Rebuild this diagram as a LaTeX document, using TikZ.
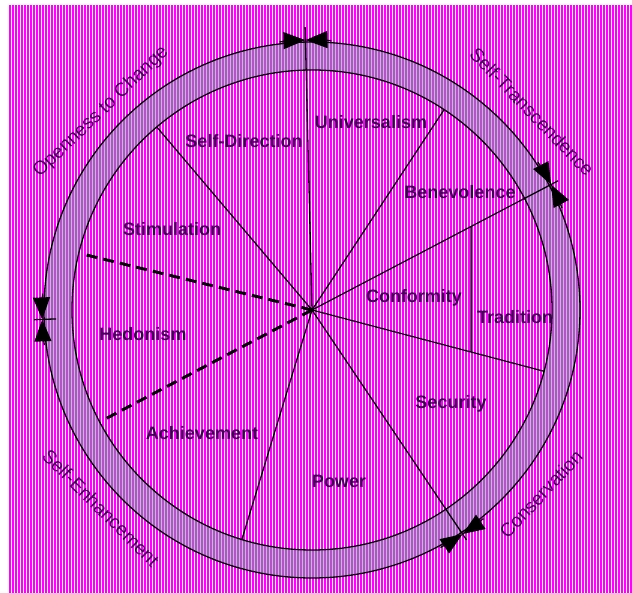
\documentclass[tikz,border=0pt]{standalone}
\usepackage{fontspec}
\setsansfont{Liberation Sans}
\usepackage{tikz}
\usetikzlibrary{arrows.meta}
\definecolor{stripemag}{HTML}{FF00FF}
\definecolor{ringpurple}{HTML}{B254C8}
\definecolor{ringgrey}{HTML}{C4BAD6}
\definecolor{labelink}{HTML}{3C0050}

\newcommand{\stripefill}[1]{%
  \foreach \sx in {11,14,...,631}
    \fill[#1] (\sx,0) rectangle ++(1.1,593);}

\tikzset{
  value/.style={font=\sffamily\bfseries\fontsize{18}{20}\selectfont, text=labelink, inner sep=0pt},
  group/.style={font=\sffamily\fontsize{19}{22}\selectfont, text=labelink, inner sep=0pt},
  spoke/.style={black, line width=1.3pt},
  dashspoke/.style={black, line width=3pt, dash pattern=on 11pt off 6pt},
  pointer/.style={black, line width=1.3pt, -{Triangle[length=22pt,width=17pt]}}
}

\begin{document}
\begin{tikzpicture}[x=1pt, y=1pt]
  \useasboundingbox (0,0) rectangle (632,593);
  \fill[white] (0,0) rectangle (632,593);
  \coordinate (C) at (312,283);

  % striped backdrop
  \begin{scope}
    \clip (9,0) rectangle (632,588);
    \fill[stripemag] (9,0) rectangle (632,588);
    \stripefill{white}
  \end{scope}

  % ring
  \begin{scope}
    \clip (C) circle (268);
    \fill[ringpurple] (C) circle (268);
    \stripefill{ringgrey}
  \end{scope}
  \begin{scope}
    \clip (C) circle (240);
    \fill[stripemag] (C) circle (240);
    \stripefill{white}
  \end{scope}
  \draw[spoke] (C) circle (268);
  \draw[spoke] (C) circle (240);

  \begin{scope}[shift={(C)}]
    % value boundaries
    \foreach \ang/\rad [count=\i] in {91.4/283, 130.3/240, 253/240, 303.9/277, 345.2/240, 27.7/278, 56.6/240}
      \coordinate (sp\i) at (\ang:\rad);
    \foreach \i in {1,...,7}
      \draw[spoke] (C) -- (sp\i);
    \coordinate (hd1) at (166.3:237);
    \coordinate (hd2) at (207.8:237);
    \draw[dashspoke] (C) -- (hd1);
    \draw[dashspoke] (C) -- (hd2);
    \coordinate (tradtop) at (intersection of C--sp6 and 159,0--159,10);
    \coordinate (tradbot) at (intersection of C--sp5 and 159,0--159,10);
    \draw[spoke] (tradtop) -- (tradbot);
    \coordinate (tickin) at (182:256);
    \coordinate (tickout) at (182:278);
    \draw[spoke] (tickin) -- (tickout);

    % group markers
    \foreach \ang in {91.4, 27.7, 303.9, 182} {
      \draw[pointer] ({\ang+5.5}:270) arc[start angle={\ang+5.5}, end angle=\ang, radius=270];
      \draw[pointer] ({\ang-5.5}:270) arc[start angle={\ang-5.5}, end angle=\ang, radius=270];
    }

    \node[value] (univ) at (59,188) {Universalism};
    \node[value] (selfdir) at (-68,169) {Self-Direction};
    \node[value] (benev) at (148,118) {Benevolence};
    \node[value] (stim) at (-140,81) {Stimulation};
    \node[value] (conf) at (102,12) {Conformity};
    \node[value] (trad) at (203,-7) {Tradition};
    \node[value] (hedon) at (-169,-24) {Hedonism};
    \node[value] (secur) at (139,-94) {Security};
    \node[value] (achiev) at (-110,-123) {Achievement};
    \node[value] (power) at (27,-171) {Power};

    \node[group, rotate=44] (open) at (-211,198) {Openness to Change};
    \node[group, rotate=-46] (transc) at (220,198) {Self-Transcendence};
    \node[group, rotate=-45] (enhance) at (-211,-198) {Self-Enhancement};
    \node[group, rotate=47] (conserv) at (229,-184) {Conservation};
  \end{scope}
\end{tikzpicture}
\end{document}
